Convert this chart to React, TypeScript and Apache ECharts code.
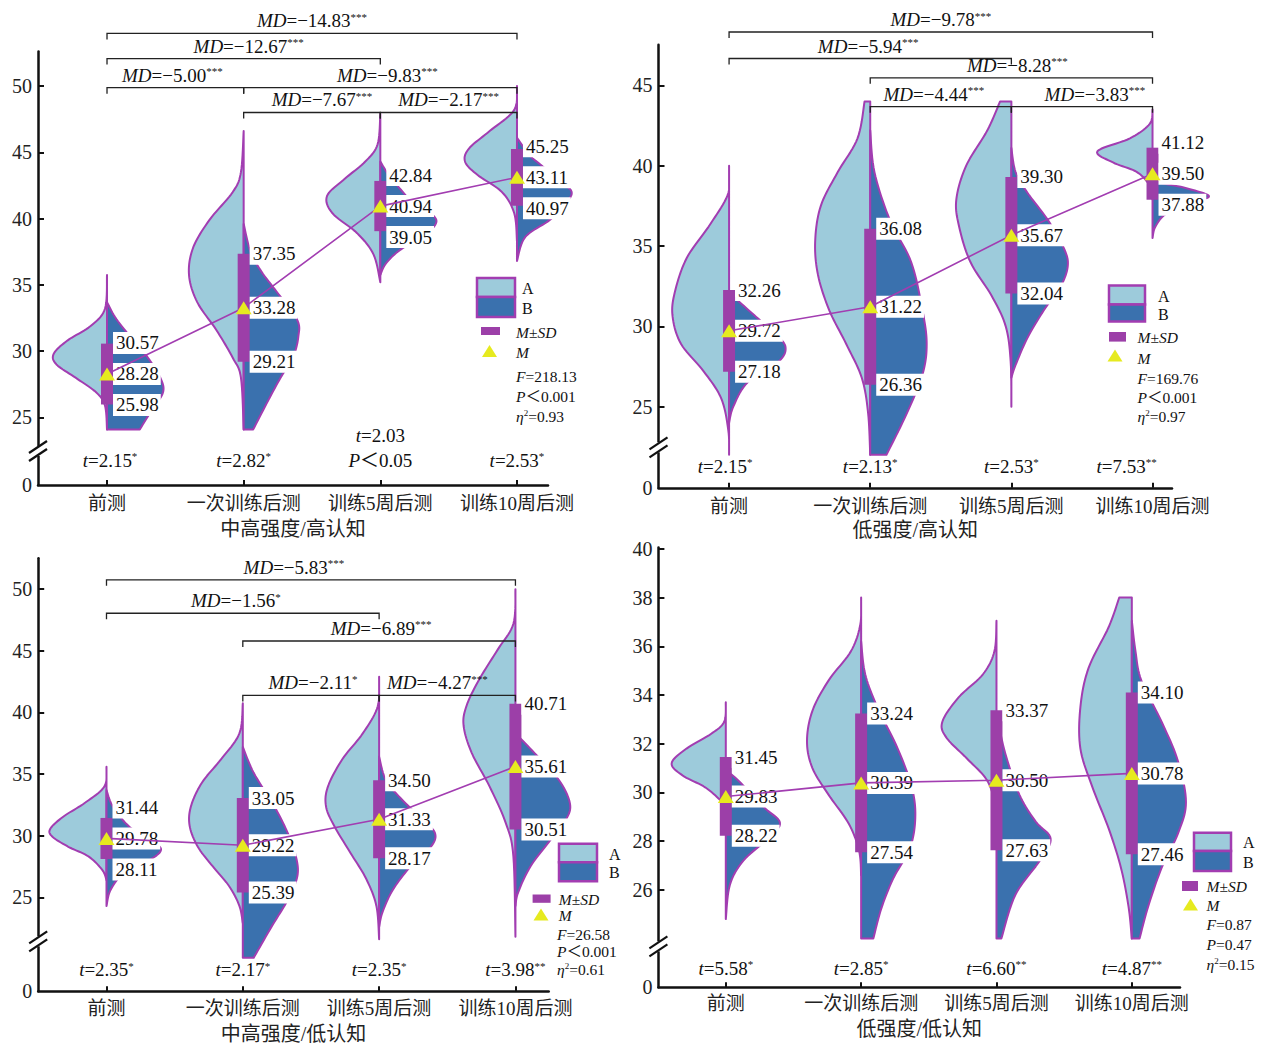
import React, { useEffect, useRef } from 'react';
import * as echarts from 'echarts';

const categories = ['前测', '一次训练后测', '训练5周后测', '训练10周后测'];

// ---------------- Panel 1 : 中高强度/高认知
const p1Title = '中高强度/高认知';
const p1Mean = [28.28, 33.28, 40.94, 43.11];
const p1Upper = [30.57, 37.35, 42.84, 45.25];
const p1Lower = [25.98, 29.21, 39.05, 40.97];
const p1ViolinA = [
  [[35.75, 0], [33.2, 0.015], [31.9, 0.12], [30.8, 0.29], [29.8, 0.39], [29.0, 0.37], [28.0, 0.23], [26.9, 0.08], [25.9, 0.015], [24.1, 0]],
  [[46.6, 0], [43.5, 0.02], [42.0, 0.08], [39.9, 0.25], [37.8, 0.37], [35.75, 0.4], [33.7, 0.34], [31.6, 0.2], [29.5, 0.08], [28.0, 0.02], [24.1, 0]],
  [[47.9, 0], [45.6, 0.02], [44.3, 0.11], [43.0, 0.26], [41.7, 0.39], [40.4, 0.35], [38.9, 0.17], [37.3, 0.05], [35.2, 0]],
  [[50.0, 0], [48.2, 0.02], [46.6, 0.2], [45.3, 0.35], [44.3, 0.38], [43.3, 0.29], [42.0, 0.11], [40.4, 0.02], [38.3, 0]],
];
const p1ViolinB = [
  [[33.7, 0], [32.4, 0.07], [30.6, 0.21], [29.5, 0.3], [28.0, 0.39], [26.9, 0.41], [25.6, 0.33], [24.1, 0.24]],
  [[39.6, 0], [37.5, 0.05], [36.0, 0.13], [34.5, 0.24], [32.4, 0.39], [31.1, 0.4], [29.5, 0.36], [28.0, 0.27], [25.9, 0.16], [24.1, 0.07]],
  [[44.3, 0], [43.3, 0.06], [42.3, 0.14], [41.2, 0.24], [40.2, 0.39], [39.5, 0.4], [38.6, 0.3], [37.6, 0.14], [36.6, 0.04], [35.75, 0]],
  [[46.1, 0], [44.8, 0.09], [44.0, 0.18], [42.7, 0.33], [42.0, 0.4], [41.2, 0.36], [39.9, 0.24], [38.6, 0.06], [36.8, 0]],
];
const p1MdFrom = [0, 0, 0, 1, 1, 2];
const p1MdTo = [3, 2, 1, 3, 2, 3];
const p1MdLevel = [53.96, 52.07, 49.87, 49.87, 48.0, 48.0];
const p1MdValue = ['−14.83', '−12.67', '−5.00', '−9.83', '−7.67', '−2.17'];
const p1MdSig = ['***', '***', '***', '***', '***', '***'];
const p1TValue = ['2.15', '2.82', '2.03', '2.53'];
const p1TSig = ['*', '*', '', '*'];
const p1TNote = ['', '', '＜0.05', ''];
const p1Stats = ['218.13', '＜0.001', '0.93'];
const p1YTicks = [25, 30, 35, 40, 45, 50];

// ---------------- Panel 2 : 低强度/高认知
const p2Title = '低强度/高认知';
const p2Mean = [29.72, 31.22, 35.67, 39.5];
const p2Upper = [32.26, 36.08, 39.3, 41.12];
const p2Lower = [27.18, 26.36, 32.04, 37.88];
const p2ViolinA = [
  [[40.0, 0], [38.3, 0.005], [36.4, 0.13], [34.25, 0.3], [32.1, 0.385], [30.6, 0.4], [28.9, 0.34], [27.2, 0.18], [25.5, 0.055], [23.5, 0.005], [22.0, 0]],
  [[44.0, 0.04], [41.7, 0.09], [39.6, 0.23], [37.5, 0.35], [35.3, 0.39], [33.2, 0.37], [31.0, 0.29], [28.9, 0.17], [26.8, 0.06], [24.6, 0.015], [22.0, 0]],
  [[44.0, 0.08], [42.2, 0.17], [40.0, 0.32], [37.9, 0.39], [36.2, 0.37], [34.0, 0.29], [31.9, 0.14], [30.0, 0.04], [27.8, 0.005], [25.0, 0]],
  [[43.5, 0], [42.6, 0.02], [41.7, 0.16], [40.9, 0.39], [40.2, 0.28], [39.6, 0.11], [38.75, 0.02], [37.9, 0]],
];
const p2ViolinB = [
  [[32.1, 0], [31.5, 0.075], [30.6, 0.19], [29.5, 0.33], [28.7, 0.4], [27.8, 0.35], [26.5, 0.13], [25.0, 0.03], [24.0, 0]],
  [[42.2, 0], [39.6, 0.03], [36.6, 0.14], [34.0, 0.29], [31.0, 0.37], [28.9, 0.4], [27.0, 0.37], [24.6, 0.26], [22.0, 0.115]],
  [[41.1, 0], [39.6, 0.03], [38.3, 0.115], [36.6, 0.26], [34.9, 0.37], [33.8, 0.4], [32.5, 0.35], [31.0, 0.23], [29.3, 0.115], [27.6, 0.03], [26.8, 0]],
  [[39.6, 0], [39.0, 0.04], [38.6, 0.24], [38.1, 0.4], [37.7, 0.27], [37.0, 0.095], [36.2, 0.02], [35.5, 0]],
];
const p2MdFrom = [0, 0, 1, 1, 2];
const p2MdTo = [3, 2, 3, 2, 3];
const p2MdLevel = [48.32, 46.67, 45.47, 43.67, 43.67];
const p2MdValue = ['−9.78', '−5.94', '−8.28', '−4.44', '−3.83'];
const p2MdSig = ['***', '***', '***', '***', '***'];
const p2TValue = ['2.15', '2.13', '2.53', '7.53'];
const p2TSig = ['*', '*', '*', '**'];
const p2TNote = ['', '', '', ''];
const p2Stats = ['169.76', '＜0.001', '0.97'];
const p2YTicks = [25, 30, 35, 40, 45];

// ---------------- Panel 3 : 中高强度/低认知
const p3Title = '中高强度/低认知';
const p3Mean = [29.78, 29.22, 31.33, 35.61];
const p3Upper = [31.44, 33.05, 34.5, 40.71];
const p3Lower = [28.11, 25.39, 28.17, 30.51];
const p3ViolinA = [
  [[35.6, 0], [34.0, 0.015], [32.65, 0.16], [31.6, 0.31], [30.6, 0.41], [29.95, 0.4], [29.1, 0.28], [28.3, 0.13], [27.2, 0.03], [26.4, 0]],
  [[40.75, 0], [38.3, 0.025], [36.2, 0.16], [34.3, 0.3], [32.4, 0.38], [30.8, 0.39], [29.1, 0.33], [27.5, 0.22], [25.9, 0.1], [24.3, 0.025], [22.9, 0]],
  [[42.9, 0], [40.5, 0.01], [38.3, 0.12], [36.2, 0.27], [34.0, 0.375], [32.4, 0.39], [30.8, 0.33], [28.6, 0.21], [26.5, 0.095], [24.3, 0.02], [21.6, 0]],
  [[50.0, 0], [47.2, 0.015], [45.1, 0.13], [42.6, 0.27], [40.5, 0.36], [38.9, 0.38], [36.7, 0.32], [34.0, 0.19], [31.0, 0.07], [28.3, 0.015], [21.8, 0]],
];
const p3ViolinB = [
  [[33.7, 0], [32.4, 0.045], [30.8, 0.16], [29.7, 0.31], [28.9, 0.4], [28.05, 0.32], [27.0, 0.13], [25.6, 0.03], [24.3, 0]],
  [[37.2, 0], [35.1, 0.08], [32.4, 0.23], [30.2, 0.33], [28.3, 0.39], [26.7, 0.4], [24.8, 0.33], [22.6, 0.21], [20.1, 0.08]],
  [[36.4, 0], [34.5, 0.05], [32.9, 0.17], [31.3, 0.32], [30.2, 0.41], [29.1, 0.38], [27.5, 0.23], [25.6, 0.1], [23.8, 0.025], [22.6, 0]],
  [[38.3, 0], [36.7, 0.14], [34.5, 0.32], [32.6, 0.4], [31.3, 0.37], [29.7, 0.26], [27.5, 0.11], [25.4, 0.02], [24.3, 0]],
];
const p3MdFrom = [0, 0, 1, 1, 2];
const p3MdTo = [3, 2, 3, 2, 3];
const p3MdLevel = [50.76, 48.05, 45.8, 41.38, 41.38];
const p3MdValue = ['−5.83', '−1.56', '−6.89', '−2.11', '−4.27'];
const p3MdSig = ['***', '*', '***', '*', '***'];
const p3TValue = ['2.35', '2.17', '2.35', '3.98'];
const p3TSig = ['*', '*', '*', '**'];
const p3TNote = ['', '', '', ''];
const p3Stats = ['26.58', '＜0.001', '0.61'];
const p3YTicks = [25, 30, 35, 40, 45, 50];

// ---------------- Panel 4 : 低强度/低认知
const p4Title = '低强度/低认知';
const p4Mean = [29.83, 30.39, 30.5, 30.78];
const p4Upper = [31.45, 33.24, 33.37, 34.1];
const p4Lower = [28.22, 27.54, 27.63, 27.46];
const p4ViolinA = [
  [[33.7, 0], [32.9, 0.012], [32.4, 0.11], [31.8, 0.29], [31.2, 0.4], [30.7, 0.32], [30.2, 0.15], [29.6, 0.025], [29.4, 0]],
  [[38.0, 0], [36.9, 0.006], [35.8, 0.075], [34.6, 0.24], [33.35, 0.36], [32.1, 0.4], [31.0, 0.36], [29.9, 0.24], [28.7, 0.09], [27.6, 0.015], [26.6, 0]],
  [[37.05, 0], [35.8, 0.015], [34.85, 0.1], [33.9, 0.28], [32.9, 0.4], [32.25, 0.37], [31.4, 0.22], [30.5, 0.07], [29.5, 0.01], [28.7, 0]],
  [[38.0, 0.093], [36.8, 0.17], [35.1, 0.32], [33.5, 0.38], [31.8, 0.38], [30.2, 0.29], [28.5, 0.17], [26.9, 0.08], [25.3, 0.024], [24.0, 0]],
];
const p4ViolinB = [
  [[30.9, 0], [30.5, 0.09], [29.4, 0.28], [28.75, 0.4], [28.1, 0.31], [27.2, 0.13], [26.2, 0.03], [24.8, 0]],
  [[36.2, 0], [34.85, 0.03], [33.5, 0.12], [31.8, 0.27], [30.2, 0.375], [28.95, 0.4], [27.7, 0.36], [26.5, 0.24], [25.25, 0.15], [24.0, 0.09]],
  [[33.2, 0], [31.6, 0.065], [29.9, 0.17], [28.8, 0.29], [28.1, 0.4], [27.2, 0.32], [25.8, 0.14], [24.0, 0.036]],
  [[37.05, 0], [35.8, 0.027], [34.6, 0.07], [32.9, 0.22], [31.3, 0.34], [29.6, 0.4], [28.3, 0.34], [26.9, 0.22], [25.3, 0.12], [24.0, 0.057]],
];
const p4MdFrom: number[] = [];
const p4MdTo: number[] = [];
const p4MdLevel: number[] = [];
const p4MdValue: string[] = [];
const p4MdSig: string[] = [];
const p4TValue = ['5.58', '2.85', '6.60', '4.87'];
const p4TSig = ['*', '*', '**', '**'];
const p4TNote = ['', '', '', ''];
const p4Stats = ['0.87', '=0.47', '0.15'];
const p4YTicks = [26, 28, 30, 32, 34, 36, 38, 40];

// ---------------- styling
const PURPLE = '#a23db1';
const BAR = '#9c3fa8';
const A_FILL = '#9dcbdb';
const B_FILL = '#3a71ae';
const TRI = '#e6ea1f';
const INK = '#111';
const SERIF = '"Liberation Serif", "Times New Roman", "Noto Sans CJK SC", serif';

const richFor = (size: number) => ({
  i: { fontStyle: 'italic', fontSize: size, fontFamily: SERIF, fill: INK },
  s: { fontSize: Math.round(size * 0.58), fontFamily: SERIF, verticalAlign: 'top', fill: INK },
});

const panels = [
  {
    title: p1Title, mean: p1Mean, upper: p1Upper, lower: p1Lower, vA: p1ViolinA, vB: p1ViolinB,
    mdFrom: p1MdFrom, mdTo: p1MdTo, mdLevel: p1MdLevel, mdValue: p1MdValue, mdSig: p1MdSig,
    tValue: p1TValue, tSig: p1TSig, tNote: p1TNote, stats: p1Stats, yTicks: p1YTicks,
    grid: { left: 38, top: 51.5, width: 510, height: 433.6 }, x: [-0.505, 3.227], y: [19.9, 52.6],
    tLevel: 21.76, tLevel2: 23.63, breakAt: 22.47, nameGap: 34, labelMargin: 9,
    mdShift: [0, 5, -3, 7, 10, 0], tShift: [3, 0, 0, 0],
    legend: { box: [477, 278, 38, 19, 20], ab: 522, sd: [481, 327, 19, 8], sdText: [516, 332], tri: [489.5, 351.5], mText: [516, 352], stats: [516, 376, 20] },
  },
  {
    title: p2Title, mean: p2Mean, upper: p2Upper, lower: p2Lower, vA: p2ViolinA, vB: p2ViolinB,
    mdFrom: p2MdFrom, mdTo: p2MdTo, mdLevel: p2MdLevel, mdValue: p2MdValue, mdSig: p2MdSig,
    tValue: p2TValue, tSig: p2TSig, tNote: p2TNote, stats: p2Stats, yTicks: p2YTicks,
    grid: { left: 658.5, top: 44.7, width: 513.5, height: 443.1 }, x: [-0.5, 3.138], y: [19.95, 47.53],
    tLevel: 21.3, tLevel2: 23.2, breakAt: 22.47, nameGap: 32, labelMargin: 9,
    mdShift: [0, -2, 6, -7, 13], tShift: [-4, 0, 0, -26],
    legend: { box: [1109, 285.5, 36, 19, 17], ab: 1158, sd: [1109, 332, 17, 9.6], sdText: [1137.5, 337], tri: [1115, 356], mText: [1137.5, 358], stats: [1137.5, 378, 19] },
  },
  {
    title: p3Title, mean: p3Mean, upper: p3Upper, lower: p3Lower, vA: p3ViolinA, vB: p3ViolinB,
    mdFrom: p3MdFrom, mdTo: p3MdTo, mdLevel: p3MdLevel, mdValue: p3MdValue, mdSig: p3MdSig,
    tValue: p3TValue, tSig: p3TSig, tNote: p3TNote, stats: p3Stats, yTicks: p3YTicks,
    grid: { left: 38.2, top: 558.3, width: 510.5, height: 432.9 }, x: [-0.501, 3.244], y: [17.38, 52.51],
    tLevel: 19.14, tLevel2: 21.0, breakAt: 21.43, nameGap: 33, labelMargin: 8,
    mdShift: [-17, -7, 2, 2, -10], tShift: [0, 0, 0, 0],
    legend: { box: [559, 843.7, 38, 18.6, 19], ab: 609, sd: [532.6, 894.5, 18, 8.3], sdText: [558.8, 899.5], tri: [541, 915], mText: [558.8, 915.4], stats: [557, 934.3, 17.4] },
  },
  {
    title: p4Title, mean: p4Mean, upper: p4Upper, lower: p4Lower, vA: p4ViolinA, vB: p4ViolinB,
    mdFrom: p4MdFrom, mdTo: p4MdTo, mdLevel: p4MdLevel, mdValue: p4MdValue, mdSig: p4MdSig,
    tValue: p4TValue, tSig: p4TSig, tNote: p4TNote, stats: p4Stats, yTicks: p4YTicks,
    grid: { left: 658.4, top: 547.6, width: 521.6, height: 439.7 }, x: [-0.498, 3.356], y: [22.0, 40.05],
    tLevel: 22.78, tLevel2: 23.6, breakAt: 23.68, nameGap: 32, labelMargin: 7,
    mdShift: [], tShift: [0, 0, 0, 0],
    legend: { box: [1194, 832.7, 37, 18.3, 20], ab: 1243, sd: [1182, 881, 16, 10], sdText: [1206.5, 886], tri: [1190.5, 905], mText: [1206.5, 905], stats: [1206.5, 924, 20] },
  },
];

// Catmull-Rom smoothing of a (value, width) profile
function smoothProfile(pts: number[][]) {
  const out: number[][] = [];
  const n = pts.length;
  for (let i = 0; i < n - 1; i++) {
    const p0 = pts[Math.max(0, i - 1)], p1 = pts[i], p2 = pts[i + 1], p3 = pts[Math.min(n - 1, i + 2)];
    for (let s = 0; s < 10; s++) {
      const t = s / 10, t2 = t * t, t3 = t2 * t;
      const f = (a: number, b: number, c: number, d: number) =>
        0.5 * (2 * b + (-a + c) * t + (2 * a - 5 * b + 4 * c - d) * t2 + (-a + 3 * b - 3 * c + d) * t3);
      out.push([f(p0[0], p1[0], p2[0], p3[0]), Math.max(0, f(p0[1], p1[1], p2[1], p3[1]))]);
    }
  }
  out.push(pts[n - 1]);
  return out;
}

function legendElements(L: any, stats: string[]) {
  const [bx, by, bw, hA, hB] = L.box;
  const txt = (x: number, y: number, text: string, size = 15.5) => ({
    type: 'text', x, y, z: 10,
    style: { text, fontSize: size, fontFamily: SERIF, fill: INK, rich: richFor(size), verticalAlign: 'middle', align: 'left' },
  });
  const [cx, cy] = L.tri;
  return [
    { type: 'rect', z: 10, shape: { x: bx, y: by, width: bw, height: hA }, style: { fill: A_FILL, stroke: PURPLE, lineWidth: 2.5 } },
    { type: 'rect', z: 10, shape: { x: bx, y: by + hA, width: bw, height: hB }, style: { fill: B_FILL, stroke: PURPLE, lineWidth: 2.5 } },
    txt(L.ab, by + hA / 2 + 1, 'A', 16),
    txt(L.ab, by + hA + hB / 2 + 1, 'B', 16),
    { type: 'rect', z: 10, shape: { x: L.sd[0], y: L.sd[1], width: L.sd[2], height: L.sd[3] }, style: { fill: BAR } },
    txt(L.sdText[0], L.sdText[1], '{i|M}±{i|SD}'),
    { type: 'polygon', z: 10, shape: { points: [[cx, cy - 6.5], [cx - 7.5, cy + 5.5], [cx + 7.5, cy + 5.5]] }, style: { fill: TRI } },
    txt(L.mText[0], L.mText[1], '{i|M}'),
    txt(L.stats[0], L.stats[1], `{i|F}=${stats[0]}`),
    txt(L.stats[0], L.stats[1] + L.stats[2], `{i|P}${stats[1]}`),
    txt(L.stats[0], L.stats[1] + 2 * L.stats[2], `{i|η}{s|2}=${stats[2]}`),
  ];
}

function buildOption() {
  const grids: any[] = [];
  const xAxes: any[] = [];
  const yAxes: any[] = [];
  const series: any[] = [];
  let graphics: any[] = [];

  panels.forEach((P, pi) => {
    grids.push({ ...P.grid, containLabel: false, outerBoundsMode: 'none' });
    xAxes.push({
      gridIndex: pi, type: 'value', min: P.x[0], max: P.x[1],
      axisLine: { show: true, onZero: false, lineStyle: { color: INK, width: 2.5 } },
      axisTick: { show: true, inside: true, length: 5, customValues: [0, 1, 2, 3], lineStyle: { color: INK, width: 2 } },
      axisLabel: {
        customValues: [0, 1, 2, 3], formatter: (v: number) => categories[Math.round(v)],
        fontSize: 19, fontFamily: SERIF, color: '#222', margin: P.labelMargin,
      },
      splitLine: { show: false },
      name: P.title, nameLocation: 'middle', nameGap: P.nameGap,
      nameTextStyle: { fontSize: 20, fontFamily: SERIF, color: '#222' },
    });
    const ymin = P.y[0];
    yAxes.push({
      gridIndex: pi, type: 'value', min: ymin, max: P.y[1],
      axisLine: { show: true, onZero: false, lineStyle: { color: INK, width: 2.5 } },
      axisTick: { show: true, inside: true, length: 6, customValues: P.yTicks, lineStyle: { color: INK, width: 2 } },
      axisLabel: {
        customValues: [ymin, ...P.yTicks],
        formatter: (v: number) => (Math.abs(v - ymin) < 1e-6 ? '0' : String(v)),
        fontSize: 20, fontFamily: SERIF, color: '#222', margin: 6,
      },
      splitLine: { show: false },
    });

    const base = { xAxisIndex: pi, yAxisIndex: pi };
    const catData = P.mean.map((m, i) => [i, m]);

    const violin = (profiles: number[][][], side: number, fill: string) => (params: any, api: any) => {
      const c = api.value(0);
      const prof = smoothProfile(profiles[params.dataIndex]);
      const pts: number[][] = [api.coord([c, prof[0][0]])];
      prof.forEach(([v, w]) => pts.push(api.coord([c + side * w, v])));
      pts.push(api.coord([c, prof[prof.length - 1][0]]));
      return { type: 'polygon', shape: { points: pts }, style: { fill, stroke: PURPLE, lineWidth: 2, lineJoin: 'round' } };
    };

    series.push({ ...base, type: 'custom', z: 2, clip: false, data: catData, renderItem: violin(P.vA, -1, A_FILL) });
    series.push({ ...base, type: 'custom', z: 2, clip: false, data: catData, renderItem: violin(P.vB, 1, B_FILL) });

    // SD bars + value labels
    series.push({
      ...base, type: 'custom', z: 3, clip: false,
      data: P.mean.map((m, i) => [i, m, P.upper[i], P.lower[i]]),
      renderItem: (params: any, api: any) => {
        const c = api.value(0);
        const m = api.value(1), up = api.value(2), lo = api.value(3);
        const pm = api.coord([c, m]);
        const pu = api.coord([c, up]);
        const pl = api.coord([c, lo]);
        const uy = Math.min(pu[1], pm[1] - 31);
        const ly = Math.max(pl[1], pm[1] + 31);
        const lab = (y: number, v: number) => ({
          type: 'text', x: pm[0] + 6, y,
          style: {
            text: v.toFixed(2), fontSize: 19, fontFamily: SERIF, fill: INK, align: 'left', verticalAlign: 'middle',
            backgroundColor: '#fff', padding: [2, 2, 1, 3],
          },
        });
        return {
          type: 'group',
          children: [
            { type: 'rect', shape: { x: pm[0] - 6, y: pu[1], width: 12, height: pl[1] - pu[1] }, style: { fill: BAR } },
            lab(uy, up), lab(pm[1], m), lab(ly, lo),
          ],
        };
      },
    });

    series.push({
      ...base, type: 'line', z: 4, data: catData, showSymbol: false, symbol: 'none',
      lineStyle: { color: PURPLE, width: 1.6 },
    });
    series.push({
      ...base, type: 'scatter', z: 5, data: catData, symbol: 'triangle', symbolSize: [16, 13],
      itemStyle: { color: TRI, opacity: 1 },
    });

    if (P.mdFrom.length) {
      series.push({
        ...base, type: 'custom', z: 3, clip: false,
        data: P.mdFrom.map((f, i) => [f, P.mdLevel[i], P.mdTo[i]]),
        renderItem: (params: any, api: any) => {
          const i = params.dataIndex;
          const a = api.coord([api.value(0), api.value(1)]);
          const b = api.coord([api.value(2), api.value(1)]);
          return {
            type: 'group',
            children: [
              {
                type: 'polyline',
                shape: { points: [[a[0], a[1] + 6], [a[0], a[1]], [b[0], b[1]], [b[0], b[1] + 6]] },
                style: { stroke: '#222', lineWidth: 1.3, fill: 'none' },
              },
              {
                type: 'text', x: (a[0] + b[0]) / 2 + (P.mdShift[i] || 0), y: a[1] - 3,
                style: {
                  text: `{i|MD}=${P.mdValue[i]}{s|${P.mdSig[i]}}`, fontSize: 19, fontFamily: SERIF, fill: INK,
                  rich: richFor(19), align: 'center', verticalAlign: 'bottom',
                },
              },
            ],
          };
        },
      });
    }

    // t-test labels
    series.push({
      ...base, type: 'custom', z: 3, clip: false,
      data: P.tValue.map((v, i) => [i, P.tLevel]),
      renderItem: (params: any, api: any) => {
        const i = params.dataIndex;
        const c = api.value(0);
        const p = api.coord([c, P.tLevel]);
        const x = p[0] + (P.tShift[i] || 0);
        const st = (y: number, text: string) => ({
          type: 'text', x, y,
          style: { text, fontSize: 19, fontFamily: SERIF, fill: INK, rich: richFor(19), align: 'center', verticalAlign: 'middle' },
        });
        const tText = `{i|t}=${P.tValue[i]}` + (P.tSig[i] ? `{s|${P.tSig[i]}}` : '');
        if (P.tNote[i]) {
          const p2 = api.coord([c, P.tLevel2]);
          return { type: 'group', children: [st(p2[1], tText), st(p[1], `{i|P}${P.tNote[i]}`)] };
        }
        return st(p[1], tText);
      },
    });

    // axis break mark
    series.push({
      ...base, type: 'custom', z: 6, clip: false,
      data: [[P.x[0], P.breakAt]],
      renderItem: (params: any, api: any) => {
        const c = api.coord([api.value(0), api.value(1)]);
        return {
          type: 'group',
          children: [
            { type: 'rect', shape: { x: c[0] - 3, y: c[1] - 5, width: 6, height: 10 }, style: { fill: '#fff' } },
            { type: 'line', shape: { x1: c[0] - 9, y1: c[1] + 2, x2: c[0] + 9, y2: c[1] - 10 }, style: { stroke: INK, lineWidth: 2.2 } },
            { type: 'line', shape: { x1: c[0] - 9, y1: c[1] + 10, x2: c[0] + 9, y2: c[1] - 2 }, style: { stroke: INK, lineWidth: 2.2 } },
          ],
        };
      },
    });

    graphics = graphics.concat(legendElements(P.legend, P.stats));
  });

  return {
    animation: false,
    backgroundColor: '#fff',
    grid: grids,
    xAxis: xAxes,
    yAxis: yAxes,
    series,
    graphic: { elements: graphics },
  };
}

export default function App() {
  const ref = useRef<HTMLDivElement>(null);
  useEffect(() => {
    if (!ref.current) return;
    const chart = echarts.init(ref.current, undefined, { renderer: 'svg' });
    chart.setOption(buildOption() as any);
    return () => chart.dispose();
  }, []);
  return (
    <div
      ref={ref}
      style={{ position: 'absolute', left: 0, top: 0, width: 1266, height: 1045, background: '#fff' }}
    />
  );
}
